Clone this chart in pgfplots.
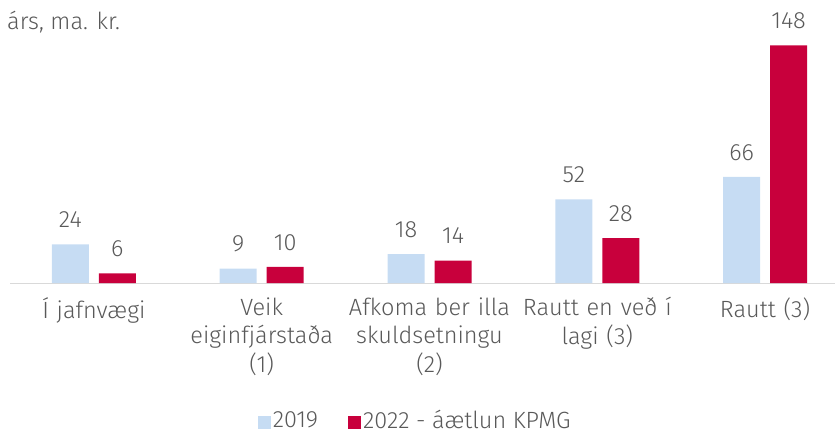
\documentclass[border=0pt]{standalone}
\usepackage{fontspec}
\setmainfont{Fira Sans}[UprightFont=* Light]
\usepackage{pgfplots}
\pgfplotsset{compat=1.18}
\definecolor{lblue}{HTML}{C6DCF3}
\definecolor{kred}{HTML}{C8003C}
\definecolor{tgray}{HTML}{595959}
\definecolor{lgray}{HTML}{D9D9D9}
\begin{document}
\begin{tikzpicture}
\useasboundingbox (0,0) rectangle (835pt,437pt);
\node[anchor=west, font=\fontsize{23.5}{26}\selectfont, text=tgray, inner sep=0pt] at (7pt,415pt) {árs, ma. kr.};
\begin{axis}[
  at={(10pt,154pt)}, anchor=south west,
  scale only axis, width=839pt, height=257pt,
  xmin=-0.5, xmax=4.5, ymin=0, ymax=160,
  ybar=10pt, bar width=37pt,
  axis x line=bottom, axis y line=none,
  x axis line style={lgray, line width=1pt, -},
  xtick=data, xticklabels={Í jafnvægi, Veik\\eiginfjárstaða\\(1), Afkoma ber illa\\skuldsetningu\\(2), Rautt en veð í\\lagi (3), Rautt (3)},
  major tick length=0pt,
  xticklabel style={text width=170pt, align=center, font=\fontsize{23.5}{28.5}\selectfont, text=tgray, yshift=-11pt},
  /pgf/number format/assume math mode=true,
  nodes near coords,
  nodes near coords style={font=\fontsize{23.5}{26}\selectfont, text=tgray, anchor=south, yshift=13pt},
  clip=false,
  legend columns=2,
  legend style={at={(0.483,-0.535)}, anchor=center, draw=none, fill=none, inner sep=1pt, font=\fontsize{23.5}{26}\selectfont, text=tgray, /tikz/every even column/.append style={column sep=28pt}},
  legend image code/.code={\fill[#1] (0pt,-8pt) rectangle (13pt,5pt);},
]
\addplot[fill=lblue, draw=none] coordinates {(0,24) (1,9) (2,18) (3,52) (4,66)};
\addplot[fill=kred, draw=none] coordinates {(0,6) (1,10) (2,14) (3,28) (4,148)};
\legend{2019, 2022 - áætlun KPMG}
\end{axis}
\end{tikzpicture}
\end{document}
